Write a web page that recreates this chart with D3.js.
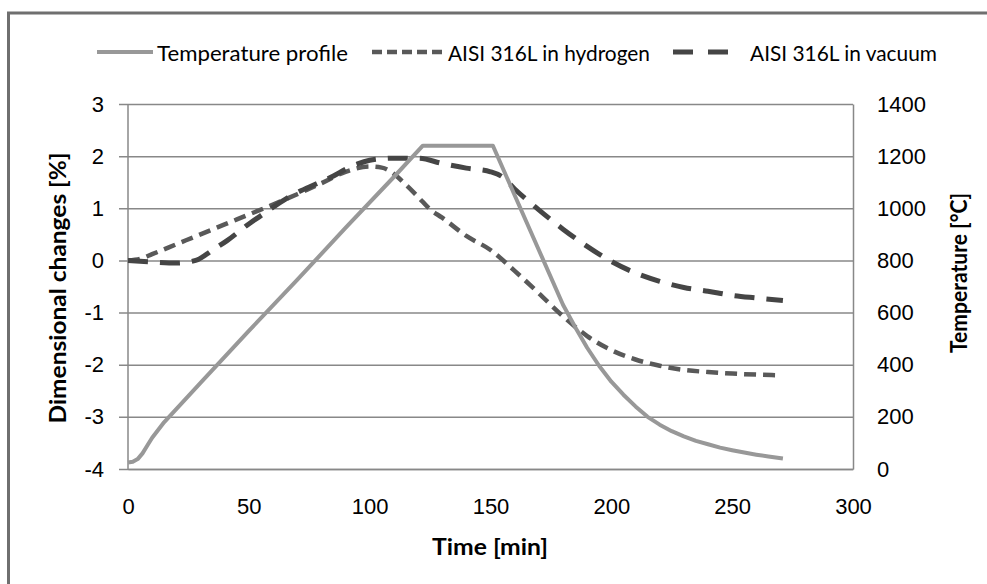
<!DOCTYPE html>
<html>
<head>
<meta charset="utf-8">
<script src="https://cdn.jsdelivr.net/npm/d3@7"></script>
<style>
  body { margin: 0; background: #fff; }
  svg { display: block; font-family: Lato, "Open Sans", sans-serif; }
</style>
</head>
<body>
<div id="chart"></div>
<script>
// temperature profile (right axis, °C)
const tempTime = [0, 2, 4, 6, 8, 10, 15, 30, 50, 70, 90, 110, 122, 151, 160, 170, 180, 185, 190, 195, 200, 205, 210, 215, 220, 225, 230, 235, 240, 245, 250, 255, 260, 265, 271];
const tempValue = [25, 28, 38, 60, 90, 120, 180, 330, 530, 725, 925, 1120, 1240, 1240, 1050, 840, 630, 545, 465, 395, 335, 285, 240, 200, 170, 145, 125, 108, 95, 82, 72, 63, 55, 48, 40];

// AISI 316L in hydrogen (left axis, %)
const h2Time = [0, 5, 10, 20, 30, 40, 50, 60, 70, 80, 90, 100, 105, 110, 115, 120, 125, 130, 140, 150, 160, 170, 180, 190, 200, 210, 220, 230, 240, 250, 260, 268];
const h2Value = [0, 0.03, 0.12, 0.31, 0.5, 0.69, 0.88, 1.07, 1.27, 1.48, 1.7, 1.8, 1.78, 1.66, 1.45, 1.22, 0.98, 0.82, 0.47, 0.2, -0.2, -0.63, -1.07, -1.45, -1.72, -1.9, -2.02, -2.1, -2.14, -2.17, -2.19, -2.2];

// AISI 316L in vacuum (left axis, %)
const vacTime = [0, 10, 20, 28, 35, 41, 50, 55, 60, 66, 70, 78, 85, 90, 95, 100, 105, 110, 120, 130, 140, 150, 155, 160, 170, 180, 190, 200, 210, 220, 230, 240, 250, 260, 271];
const vacValue = [0, -0.03, -0.05, 0.0, 0.2, 0.38, 0.7, 0.86, 1.02, 1.2, 1.3, 1.47, 1.62, 1.75, 1.85, 1.92, 1.95, 1.96, 1.96, 1.86, 1.77, 1.7, 1.6, 1.37, 0.97, 0.6, 0.27, -0.02, -0.24, -0.4, -0.52, -0.59, -0.67, -0.72, -0.77];

const seriesNames = ['Temperature profile', 'AISI 316L in hydrogen', 'AISI 316L in vacuum'];
const xTicks = [0, 50, 100, 150, 200, 250, 300];
const yLeftTicks = [-4, -3, -2, -1, 0, 1, 2, 3];
const yRightTicks = [0, 200, 400, 600, 800, 1000, 1200, 1400];

const W = 987, H = 584;
const plotLeft = 128, plotRight = 853, plotTop = 104, plotBottom = 469;

const svg = d3.select('#chart').append('svg').attr('width', W).attr('height', H);

// outer frame
svg.append('rect')
  .attr('x', 8.5).attr('y', 13).attr('width', 1000).attr('height', 700)
  .attr('fill', 'none').attr('stroke', '#6f6f6f').attr('stroke-width', 3);

const x = d3.scaleLinear().domain([0, 300]).range([plotLeft, plotRight]);
const yL = d3.scaleLinear().domain([-4, 3]).range([plotBottom, plotTop]);
const yR = d3.scaleLinear().domain([0, 1400]).range([plotBottom, plotTop]);

const gridColor = '#888';

// left axis + gridlines (ticks stick out 9px on the left)
const gL = svg.append('g')
  .attr('transform', `translate(${plotLeft - 9},0)`)
  .call(d3.axisLeft(yL).tickValues(yLeftTicks).tickSize(-(plotRight - plotLeft + 9)).tickSizeOuter(0)
    .tickPadding(15).tickFormat(d => String(d)));
gL.select('.domain').remove();
gL.selectAll('line').attr('stroke', gridColor).attr('stroke-width', 1.5);
gL.selectAll('text').attr('font-size', 22).attr('fill', '#000');

// right axis
const gR = svg.append('g')
  .attr('transform', `translate(${plotRight},0)`)
  .call(d3.axisRight(yR).tickValues(yRightTicks).tickSize(0).tickPadding(24).tickFormat(d => String(d)));
gR.select('.domain').attr('stroke', gridColor).attr('stroke-width', 1.5);
gR.selectAll('text').attr('font-size', 22).attr('fill', '#000');

// bottom axis
const gB = svg.append('g')
  .attr('transform', `translate(0,${plotBottom})`)
  .call(d3.axisBottom(x).tickValues(xTicks).tickSize(0).tickPadding(29).tickFormat(d => String(d)));
gB.select('.domain').attr('stroke', gridColor).attr('stroke-width', 1.5);
gB.selectAll('text').attr('font-size', 22).attr('fill', '#000');

// left axis line
svg.append('line')
  .attr('x1', plotLeft).attr('x2', plotLeft).attr('y1', plotTop).attr('y2', plotBottom)
  .attr('stroke', gridColor).attr('stroke-width', 1.5);

// axis titles
svg.append('text')
  .attr('transform', `translate(57,288) rotate(-90)`)
  .attr('text-anchor', 'middle').attr('dominant-baseline', 'central')
  .attr('font-size', 22).attr('font-weight', 'bold')
  .attr('textLength', 271).attr('lengthAdjust', 'spacingAndGlyphs')
  .text('Dimensional changes [%]');

svg.append('text')
  .attr('transform', `translate(958,273) rotate(-90)`)
  .attr('text-anchor', 'middle').attr('dominant-baseline', 'central')
  .attr('font-size', 22).attr('font-weight', 'bold')
  .attr('textLength', 160).attr('lengthAdjust', 'spacingAndGlyphs')
  .text('Temperature [°C]');

svg.append('text')
  .attr('x', 490).attr('y', 546)
  .attr('text-anchor', 'middle').attr('dominant-baseline', 'central')
  .attr('font-size', 22).attr('font-weight', 'bold')
  .attr('textLength', 116).attr('lengthAdjust', 'spacingAndGlyphs')
  .text('Time [min]');

// series
const styles = [
  { color: '#989898', width: 4, dash: null },
  { color: '#595959', width: 4.5, dash: '12,7' },
  { color: '#454545', width: 5, dash: '20,12' }
];

const tempLine = d3.line().x(d => x(d[0])).y(d => yR(d[1]));
const pctLine = d3.line().x(d => x(d[0])).y(d => yL(d[1])).curve(d3.curveMonotoneX);

const h2Data = h2Time.map((t, i) => [t, h2Value[i]]);
const vacData = vacTime.map((t, i) => [t, vacValue[i]]);
const tempData = tempTime.map((t, i) => [t, tempValue[i]]);

svg.append('path').datum(h2Data).attr('d', pctLine)
  .attr('fill', 'none').attr('stroke', styles[1].color).attr('stroke-width', styles[1].width)
  .attr('stroke-dasharray', styles[1].dash);
svg.append('path').datum(vacData).attr('d', pctLine)
  .attr('fill', 'none').attr('stroke', styles[2].color).attr('stroke-width', styles[2].width)
  .attr('stroke-dasharray', styles[2].dash);
svg.append('path').datum(tempData).attr('d', tempLine)
  .attr('fill', 'none').attr('stroke', styles[0].color).attr('stroke-width', styles[0].width)
  .attr('stroke-linejoin', 'round');

// legend
const legendY = 52;
const legendItems = [
  { x1: 97, x2: 153, tx: 157, tw: 191 },
  { x1: 372, x2: 442, tx: 448, tw: 202 },
  { x1: 673, x2: 728, tx: 750, tw: 187 }
];
const legendDash = [null, '10,5', '20,15'];

legendItems.forEach((it, i) => {
  svg.append('line')
    .attr('x1', it.x1).attr('x2', it.x2).attr('y1', legendY).attr('y2', legendY)
    .attr('stroke', styles[i].color).attr('stroke-width', styles[i].width)
    .attr('stroke-dasharray', legendDash[i]);
  svg.append('text')
    .attr('x', it.tx).attr('y', legendY)
    .attr('dominant-baseline', 'central')
    .attr('font-size', 22).attr('fill', '#000')
    .attr('textLength', it.tw).attr('lengthAdjust', 'spacingAndGlyphs')
    .text(seriesNames[i]);
});
</script>
</body>
</html>
